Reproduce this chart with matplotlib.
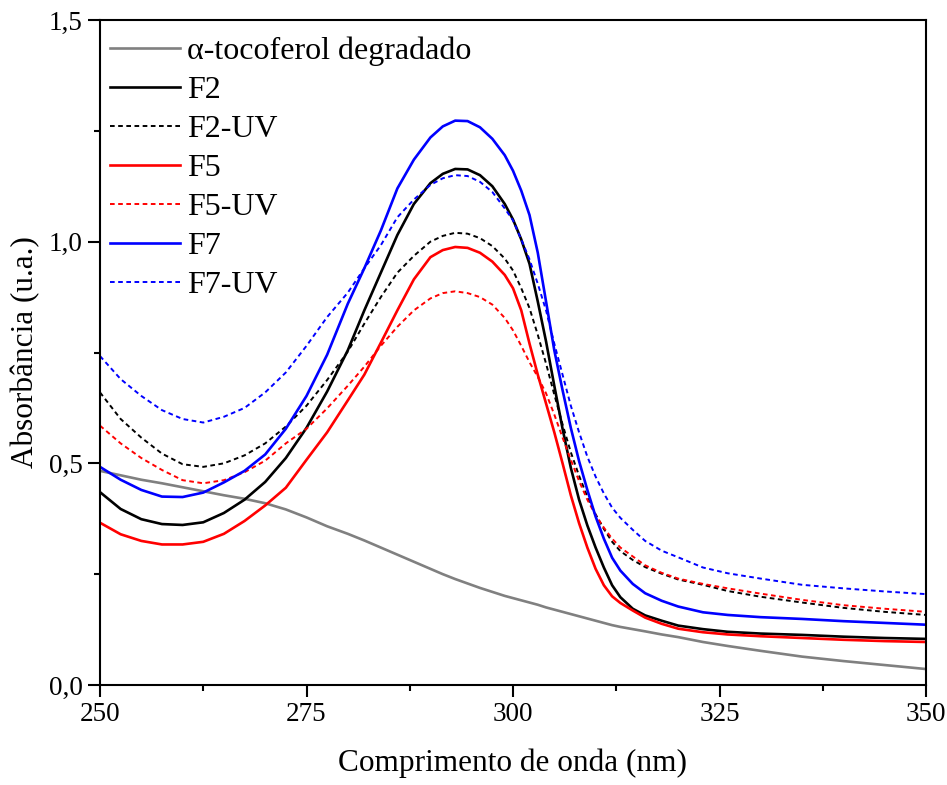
import matplotlib
matplotlib.use("Agg")
import matplotlib.pyplot as plt
from matplotlib.ticker import MultipleLocator, FuncFormatter

wavelength = [250, 252.5, 255, 257.5, 260, 262.5, 265, 267.5, 270, 272.5, 275, 277.5,
              280, 282, 284, 286, 288, 290, 291.5, 293, 294.5, 296, 297.5, 299,
              300, 301, 302, 303, 304, 305, 306, 307, 308, 309, 310, 311, 312, 313,
              314.5, 316, 318, 320, 323, 326, 330, 335, 340, 345, 350]

tocoferol = [0.483, 0.473, 0.463, 0.455, 0.446, 0.437, 0.428, 0.420, 0.410, 0.396, 0.378, 0.358,
             0.341, 0.326, 0.310, 0.294, 0.278, 0.262, 0.250, 0.239, 0.229, 0.219, 0.210, 0.201,
             0.196, 0.191, 0.186, 0.181, 0.175, 0.170, 0.165, 0.160, 0.155, 0.150, 0.145, 0.140, 0.135, 0.131,
             0.126, 0.121, 0.114, 0.108, 0.097, 0.088, 0.077, 0.064, 0.054, 0.045, 0.036]

f2 = [0.435, 0.397, 0.374, 0.363, 0.361, 0.367, 0.388, 0.418, 0.458, 0.512, 0.580, 0.662,
      0.755, 0.845, 0.930, 1.015, 1.085, 1.132, 1.153, 1.164, 1.163, 1.150, 1.125, 1.085,
      1.050, 1.005, 0.950, 0.865, 0.775, 0.675, 0.578, 0.490, 0.418, 0.360, 0.310, 0.265, 0.225, 0.198,
      0.172, 0.157, 0.145, 0.134, 0.126, 0.120, 0.116, 0.113, 0.109, 0.106, 0.104]

f2_uv = [0.660, 0.600, 0.558, 0.522, 0.498, 0.492, 0.500, 0.518, 0.545, 0.583, 0.630, 0.688,
         0.752, 0.815, 0.875, 0.930, 0.968, 1.000, 1.013, 1.020, 1.018, 1.008, 0.990, 0.962,
         0.935, 0.895, 0.850, 0.790, 0.725, 0.655, 0.588, 0.525, 0.472, 0.425, 0.385, 0.352, 0.323, 0.302,
         0.282, 0.266, 0.251, 0.238, 0.226, 0.212, 0.199, 0.186, 0.174, 0.165, 0.158]

f5 = [0.366, 0.340, 0.325, 0.317, 0.317, 0.323, 0.341, 0.370, 0.405, 0.445, 0.508, 0.570,
      0.642, 0.700, 0.772, 0.845, 0.915, 0.965, 0.981, 0.988, 0.986, 0.975, 0.955, 0.925,
      0.895, 0.845, 0.770, 0.700, 0.635, 0.570, 0.500, 0.428, 0.365, 0.310, 0.262, 0.225, 0.200, 0.185,
      0.168, 0.152, 0.138, 0.127, 0.119, 0.114, 0.110, 0.106, 0.102, 0.099, 0.097]

f5_uv = [0.585, 0.545, 0.512, 0.485, 0.462, 0.455, 0.462, 0.480, 0.506, 0.545, 0.578, 0.624,
         0.675, 0.718, 0.765, 0.808, 0.845, 0.872, 0.884, 0.888, 0.884, 0.875, 0.858, 0.828,
         0.800, 0.765, 0.728, 0.695, 0.658, 0.610, 0.558, 0.508, 0.460, 0.418, 0.383, 0.355, 0.330, 0.310,
         0.290, 0.270, 0.253, 0.240, 0.228, 0.218, 0.206, 0.192, 0.180, 0.172, 0.165]

f7 = [0.492, 0.463, 0.440, 0.425, 0.424, 0.434, 0.457, 0.483, 0.520, 0.578, 0.652, 0.745,
      0.860, 0.940, 1.025, 1.120, 1.185, 1.235, 1.260, 1.273, 1.272, 1.258, 1.232, 1.195,
      1.160, 1.115, 1.060, 0.975, 0.865, 0.755, 0.665, 0.580, 0.505, 0.440, 0.380, 0.330, 0.287, 0.258,
      0.228, 0.207, 0.190, 0.177, 0.164, 0.158, 0.153, 0.149, 0.144, 0.140, 0.136]

f7_uv = [0.742, 0.690, 0.652, 0.620, 0.600, 0.592, 0.605, 0.625, 0.660, 0.705, 0.765, 0.830,
         0.885, 0.940, 0.992, 1.055, 1.095, 1.128, 1.143, 1.150, 1.148, 1.135, 1.112, 1.075,
         1.048, 1.005, 0.960, 0.905, 0.845, 0.770, 0.700, 0.630, 0.570, 0.515, 0.470, 0.432, 0.400, 0.377,
         0.350, 0.325, 0.303, 0.288, 0.265, 0.252, 0.240, 0.226, 0.218, 0.211, 0.205]

labels = ["\u03b1-tocoferol degradado", "F2", "F2-UV", "F5", "F5-UV", "F7", "F7-UV"]

plt.rcParams['font.family'] = ['Liberation Serif', 'DejaVu Serif']

fig = plt.figure(figsize=(9.47, 7.85), dpi=100)
ax = fig.add_axes([100/947, 100/785, 826/947, 665/785])

series = [
    (tocoferol, '#808080', '-'),
    (f2, 'black', '-'),
    (f2_uv, 'black', '--'),
    (f5, '#ff0000', '-'),
    (f5_uv, '#ff0000', '--'),
    (f7, '#0000ff', '-'),
    (f7_uv, '#0000ff', '--'),
]
for (vals, col, ls), lab in zip(series, labels):
    if ls == '--':
        ax.plot(wavelength, vals, color=col, lw=1.4, linestyle=(0, (2.4, 1.8)), label=lab)
    else:
        ax.plot(wavelength, vals, color=col, lw=1.9, label=lab)

ax.set_xlim(250, 350)
ax.set_ylim(0, 1.5)
ax.xaxis.set_major_locator(MultipleLocator(25))
ax.xaxis.set_minor_locator(MultipleLocator(12.5))
ax.yaxis.set_major_locator(MultipleLocator(0.5))
ax.yaxis.set_minor_locator(MultipleLocator(0.25))
ax.yaxis.set_major_formatter(FuncFormatter(lambda v, p: f"{v:.1f}".replace('.', ',')))

for s in ax.spines.values():
    s.set_linewidth(1.5)
ax.tick_params(which='major', direction='out', length=8.5, width=1.5, labelsize=19.5, pad=4)
ax.tick_params(which='minor', direction='out', length=4.5, width=1.5)
ax.tick_params(top=False, right=False)

ax.set_xlabel("Comprimento de onda (nm)", fontsize=22.5, labelpad=15)
ax.set_ylabel("Absorbância (u.a.)", fontsize=22.5, labelpad=6)

leg = ax.legend(loc='upper left', bbox_to_anchor=(0.0044, 0.9844), frameon=False, fontsize=23,
                handlelength=2.2, borderaxespad=0.0, borderpad=0.2, labelspacing=0.30,
                handletextpad=0.2)

fig.savefig("out.png", dpi=100)
